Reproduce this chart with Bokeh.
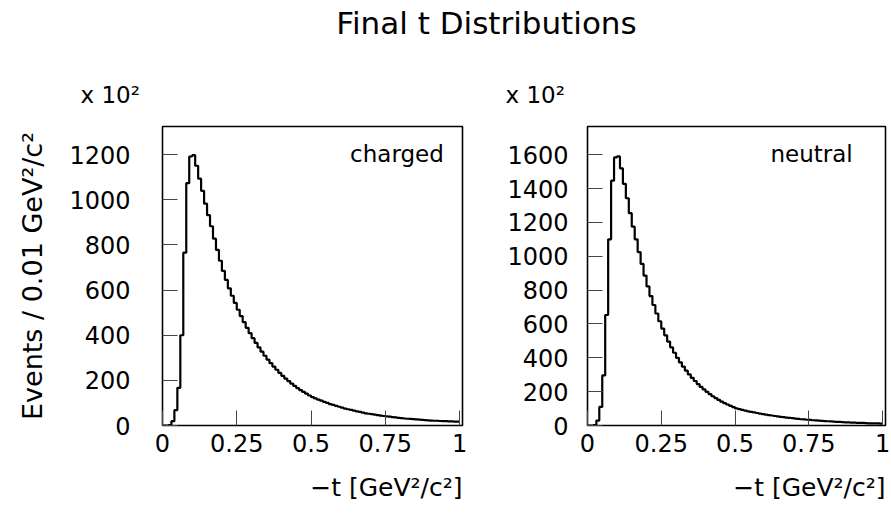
from bokeh.plotting import figure
from bokeh.layouts import column, row
from bokeh.models import Range1d, FixedTicker, Label, Title
from bokeh.embed import file_html
from bokeh.resources import INLINE

# ---- data (events per 0.01 GeV^2/c^2, in units of 10^2) ----
bin_width = 0.01
t_edges = [round(i * bin_width, 2) for i in range(101)]
charged = [0, 0, 2, 19, 68, 167, 400, 766, 1074, 1192,
           1198, 1151, 1094, 1040, 983, 932, 883, 828, 778, 730,
           685, 645, 608, 575, 543, 513, 485, 458, 433, 409,
           387, 366, 346, 327, 309, 292, 276, 261, 247, 233,
           220, 208, 197, 186, 176, 166, 157, 149, 141, 133,
           126, 120, 115, 110, 105, 100, 95, 91, 87, 83,
           79, 75, 72, 69, 66, 63, 60, 57, 54, 52,
           50, 48, 46, 44, 42, 40, 39, 37, 36, 34,
           33, 31, 30, 29, 28, 27, 26, 25, 24, 23,
           22, 21, 21, 20, 19, 19, 18, 18, 17, 17]
neutral = [0, 0, 3, 29, 110, 296, 653, 1100, 1447, 1584,
           1590, 1520, 1428, 1343, 1255, 1175, 1100, 1025, 955, 886,
           822, 765, 712, 662, 616, 573, 533, 496, 462, 430,
           400, 373, 348, 324, 302, 282, 263, 245, 228, 213,
           199, 186, 173, 162, 151, 141, 132, 124, 116, 108,
           101, 97, 92, 88, 84, 81, 77, 74, 70, 67,
           64, 61, 59, 56, 54, 51, 49, 47, 45, 43,
           41, 39, 37, 36, 34, 33, 31, 30, 29, 27,
           26, 25, 24, 23, 22, 21, 20, 19, 18, 17,
           17, 16, 15, 15, 14, 13, 13, 12, 12, 11]
x_ticks = [0, 0.25, 0.5, 0.75, 1]
x_tick_labels = ["0", "0.25", "0.5", "0.75", "1"]
y_ticks_charged = [0, 200, 400, 600, 800, 1000, 1200]
y_ticks_neutral = [0, 200, 400, 600, 800, 1000, 1200, 1400, 1600]

FONT = "DejaVu Sans"
TITLE = "Final t Distributions"
Y_LABEL = "Events / 0.01 GeV\u00b2/c\u00b2"
X_LABEL = "\u2212t [GeV\u00b2/c\u00b2]"
SCALE_LABEL = "x 10\u00b2"


def make_panel(counts, yticks, ymax, width, left, right, tag, ylabel=None, standoff=32):
    p = figure(width=width, height=458, output_backend="svg", toolbar_location=None,
               x_range=Range1d(0, 1.01), y_range=Range1d(0, ymax),
               min_border_left=left, min_border_right=right,
               min_border_top=66, min_border_bottom=92)
    p.grid.visible = False
    p.outline_line_color = "black"
    p.outline_line_width = 1.6
    p.background_fill_color = "white"
    p.border_fill_color = "white"

    p.xaxis.ticker = FixedTicker(ticks=x_ticks)
    p.xaxis.major_label_overrides = {t: s for t, s in zip(x_ticks, x_tick_labels)}
    p.yaxis.ticker = FixedTicker(ticks=yticks)
    for ax in (p.xaxis[0], p.yaxis[0]):
        ax.axis_line_color = None
        ax.major_tick_in = 15
        ax.major_tick_out = 0
        ax.major_tick_line_color = "#444444"
        ax.major_tick_line_width = 1
        ax.minor_tick_line_color = None
        ax.major_label_text_font = FONT
        ax.major_label_text_font_size = "24px"
        ax.major_label_text_color = "black"
    p.xaxis.major_label_standoff = 8
    p.yaxis.major_label_standoff = standoff
    if ylabel:
        p.yaxis.axis_label = ylabel
        p.yaxis.axis_label_text_font = FONT
        p.yaxis.axis_label_text_font_size = "27px"
        p.yaxis.axis_label_text_font_style = "normal"
        p.yaxis.axis_label_text_color = "black"
        p.yaxis.axis_label_standoff = 18

    p.step(x=t_edges, y=counts + [counts[-1]], mode="after",
           line_color="black", line_width=2.2)

    # multiplier label above the frame, left of it
    p.add_layout(Title(text=SCALE_LABEL, align="left", offset=-82, standoff=38,
                       text_font=FONT, text_font_size="23px",
                       text_font_style="normal", text_color="black"), "above")
    # x-axis title, right aligned with the frame
    p.add_layout(Title(text=X_LABEL, align="right", standoff=33,
                       text_font=FONT, text_font_size="25px", text_line_height=1.0,
                       text_font_style="normal", text_color="black"), "below")

    def px_y(y_from_top):
        return (426 - y_from_top) / 300 * ymax

    p.add_layout(Label(x=tag[1], y=px_y(154), text=tag[0], text_font=FONT,
                       text_font_size="23px", text_baseline="alphabetic",
                       text_align="right", text_color="black"))
    return p


left_p = make_panel(charged, y_ticks_charged, 1325, 470, 162, 8,
                    ("charged", 0.947), ylabel=Y_LABEL, standoff=32)
right_p = make_panel(neutral, y_ticks_neutral, 1767, 421, 117, 6,
                     ("neutral", 0.899), standoff=19)

title_p = figure(width=891, height=60, output_backend="svg", toolbar_location=None,
                 x_range=Range1d(0, 891), y_range=Range1d(0, 60),
                 x_axis_type=None, y_axis_type=None, min_border=0)
title_p.grid.visible = False
title_p.outline_line_color = None
title_p.add_layout(Label(x=486, y=38, text=TITLE, text_font=FONT,
                         text_font_size="31px", text_align="center",
                         text_baseline="alphabetic", text_color="black"))

layout = column(title_p, row(left_p, right_p, spacing=0), spacing=0)
open("out.html", "w").write(file_html(layout, INLINE))
